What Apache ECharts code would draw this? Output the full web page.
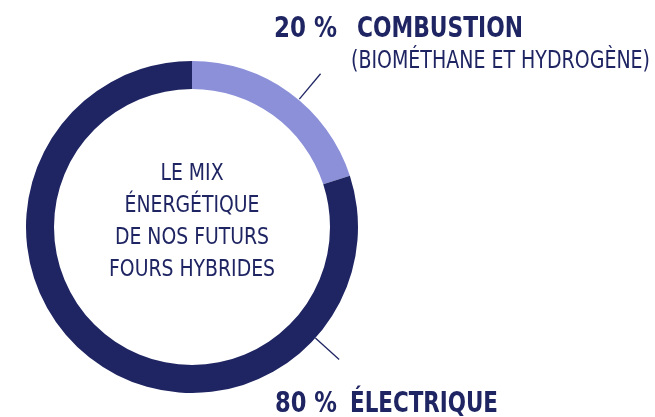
<!DOCTYPE html>
<html>
<head>
<meta charset="utf-8">
<script src="https://cdn.jsdelivr.net/npm/echarts@6/dist/echarts.min.js"></script>
<style>
  html, body { margin: 0; padding: 0; background: #fff; }
  #chart { width: 655px; height: 417px; }
</style>
</head>
<body>
<div id="chart"></div>
<script>
// data
const categories = ['COMBUSTION', 'ÉLECTRIQUE']
const values = [20, 80]
const notes = ['(BIOMÉTHANE ET HYDROGÈNE)', '']
const centerLines = ['LE MIX', 'ÉNERGÉTIQUE', 'DE NOS FUTURS', 'FOURS HYBRIDES']
const colors = ['#8b90d9', '#1f2562']

const navy = '#1f2562'
const font = '"DejaVu Sans Condensed", "DejaVu Sans", sans-serif'
const cx = 192, cy = 227

const ctx = document.createElement('canvas').getContext('2d')
const measure = (text, f) => {
    ctx.font = f
    return ctx.measureText(text).width
}

// leader line from ring edge outwards, angle clockwise from 12 o'clock
const leader = (deg, r0, r1) => {
    const a = deg * Math.PI / 180
    return {
        type: 'line',
        shape: {
            x1: cx + r0 * Math.sin(a), y1: cy - r0 * Math.cos(a),
            x2: cx + r1 * Math.sin(a), y2: cy - r1 * Math.cos(a)
        },
        style: {stroke: navy, lineWidth: 1.3}
    }
}

// left aligned text squeezed horizontally to a given width
const txt = (x, y, text, size, weight, width) => {
    const f = weight + ' ' + size + 'px ' + font
    return {
        type: 'text', x: x, y: y,
        scaleX: width / measure(text, f),
        style: {text: text, fill: navy, font: f, textVerticalAlign: 'middle'}
    }
}

const centerFont = '500 23px ' + font
const centerScale = 166 / measure(centerLines[3], centerFont)

const option = {
    animation: false,
    series: [
        {
            type: 'pie',
            center: [cx, cy],
            radius: [138, 166],
            startAngle: 90,
            silent: true,
            label: {show: false},
            labelLine: {show: false},
            itemStyle: {borderWidth: 0},
            data: categories.map((c, i) => ({name: c, value: values[i], itemStyle: {color: colors[i]}}))
        }
    ],
    graphic: [
        leader(40, 167, 200),
        leader(132, 166, 198),
        txt(274, 29, values[0] + ' %', 29, 'bold', 63),
        txt(357, 29, categories[0], 29, 'bold', 166),
        txt(351, 61, notes[0], 25, 'normal', 299),
        txt(275, 404, values[1] + ' %', 29, 'bold', 62),
        txt(350, 404, categories[1], 29, 'bold', 148),
        {
            type: 'text', x: cx, y: 222,
            scaleX: centerScale,
            style: {
                text: centerLines.join('\n'), fill: navy, font: centerFont,
                textAlign: 'center', textVerticalAlign: 'middle', lineHeight: 32
            }
        }
    ]
}

const myChart = echarts.init(document.getElementById('chart'), null, {renderer: 'canvas'})
myChart.setOption(option)
</script>
</body>
</html>
